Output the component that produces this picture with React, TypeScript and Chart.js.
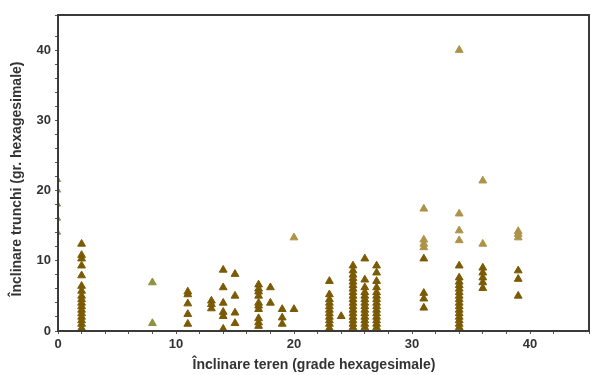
import React, { useEffect, useRef } from "react";
import { Chart, registerables } from "chart.js";

Chart.register(...registerables);

// Axis texts
const xTitle = "Înclinare teren (grade hexagesimale)";
const yTitle = "Înclinare trunchi (gr. hexagesimale)";
const xLabelTicks = [0, 10, 20, 30, 40];
const yLabelTicks = [0, 10, 20, 30, 40];

// Terrain slope columns (x) and trunk inclinations (y)
const terrainSlopes = [2, 11, 13, 14, 15, 17, 18, 19, 20, 23, 24, 25, 26, 27, 31, 34, 36, 39];
const darkTrunk = [
  [0.4, 1, 1.5, 2, 2.5, 3, 3.5, 4, 4.5, 5, 5.7, 6.4, 7.9, 9.3, 10.3, 10.8, 12.4],
  [1, 2.4, 3.9, 5.2, 5.6],
  [3.2, 3.8, 4.3],
  [0.3, 2.1, 2.7, 4.0, 6.2, 8.7],
  [1.1, 2.6, 5.0, 8.1],
  [0.7, 1.2, 1.8, 3.1, 3.6, 4.0, 5.0, 5.6, 6.0, 6.6],
  [4.0, 6.2],
  [1.0, 1.9, 3.1],
  [3.1],
  [0.4, 1, 1.5, 2, 2.5, 3, 3.5, 4, 4.5, 5.2, 7.1],
  [2.1],
  [0.5, 1, 1.5, 2, 2.5, 3, 3.5, 4, 4.5, 5, 5.5, 6, 6.5, 7, 7.5, 8, 8.6, 9.3],
  [0.5, 1, 1.5, 2, 2.5, 3, 3.5, 4, 4.5, 5, 5.5, 6.2, 7.3, 10.3],
  [0.5, 1, 1.5, 2, 2.5, 3, 3.5, 4, 4.5, 5, 5.5, 6.2, 7.1, 8.3, 9.3],
  [3.3, 4.6, 5.4, 10.3],
  [0.5, 1, 1.5, 2, 2.5, 3, 3.5, 4, 4.5, 5, 5.5, 6, 6.5, 7, 7.6, 9.3],
  [6.1, 6.9, 7.6, 8.3, 9],
  [5, 7.4, 8.6],
];
const lightTrunk = [
  [], [], [], [], [], [], [], [], [13.3], [], [], [], [], [],
  [11.9, 12.4, 13, 17.4],
  [12.9, 14.3, 16.7, 40],
  [12.4, 21.4],
  [13.3, 13.8, 14.2],
];
const greenSlopes = [8, 8];
const greenTrunk = [1.1, 6.9];
const edgeSlopes = [0, 0, 0, 0, 0];
const edgeTrunk = [14, 16, 18, 20, 21.5];

const DARK = "#7b5a04";
const LIGHT = "#ad9348";
const GREEN = "#8e9142";
const TEXT = "#333";
const FONT_FAMILY = "'Liberation Sans', Arial, sans-serif";

function toPoints(xs: number[], cols: number[][]) {
  const pts: { x: number; y: number }[] = [];
  xs.forEach((x, i) => cols[i].forEach((y) => pts.push({ x, y })));
  return pts;
}

const framePlugin = {
  id: "frame",
  afterDraw(chart: any) {
    const { ctx, chartArea } = chart;
    ctx.save();
    ctx.strokeStyle = "#3a3a3a";
    ctx.lineWidth = 2;
    ctx.strokeRect(chartArea.left, chartArea.top, chartArea.right - chartArea.left, chartArea.bottom - chartArea.top);
    // axis titles
    ctx.fillStyle = TEXT;
    ctx.font = `bold 14px ${FONT_FAMILY}`;
    ctx.textAlign = "center";
    ctx.textBaseline = "middle";
    ctx.fillText(xTitle, 314, 365);
    ctx.translate(17, 179);
    ctx.rotate(-Math.PI / 2);
    ctx.fillText(yTitle, 0, 0);
    ctx.restore();
  },
};

export default function App() {
  const ref = useRef<HTMLCanvasElement>(null);
  useEffect(() => {
    document.body.style.margin = "0";
    if (!ref.current) return;
    const font = { family: FONT_FAMILY, size: 13, weight: "bold" as const };
    const pointCommon = {
      pointStyle: "triangle" as const,
      pointRadius: 4.5,
      borderWidth: 1,
      showLine: false,
    };
    const chart = new Chart(ref.current, {
      type: "scatter",
      data: {
        datasets: [
          { label: "edge", data: edgeSlopes.map((x, i) => ({ x, y: edgeTrunk[i] })), backgroundColor: GREEN, borderColor: GREEN, clip: 0, ...pointCommon, pointRadius: 3 },
          { label: "green", data: greenSlopes.map((x, i) => ({ x, y: greenTrunk[i] })), backgroundColor: GREEN, borderColor: GREEN, ...pointCommon },
          { label: "light", data: toPoints(terrainSlopes, lightTrunk), backgroundColor: LIGHT, borderColor: LIGHT, ...pointCommon },
          { label: "dark", data: toPoints(terrainSlopes, darkTrunk), backgroundColor: DARK, borderColor: DARK, ...pointCommon },
        ],
      },
      options: {
        animation: false,
        responsive: false,
        layout: { autoPadding: false, padding: { top: 15, right: 1, left: 0, bottom: 0 } },
        plugins: { legend: { display: false }, tooltip: { enabled: false } },
        scales: {
          x: {
            type: "linear",
            min: 0,
            max: 45,
            afterFit: (s: any) => { s.height = 44; },
            ticks: {
              stepSize: 2,
              autoSkip: false,
              maxRotation: 0,
              padding: 3,
              color: TEXT,
              font,
              callback: (v: any) => (xLabelTicks.includes(Number(v)) ? String(v) : ""),
            },
            grid: { drawOnChartArea: false, drawTicks: true, tickLength: 3, color: "#555" },
            border: { display: true, color: "#3a3a3a", width: 2 },
          },
          y: {
            type: "linear",
            min: 0,
            max: 45,
            afterFit: (s: any) => { s.width = 58; },
            ticks: {
              stepSize: 2,
              autoSkip: false,
              padding: 4,
              color: TEXT,
              font,
              callback: (v: any) => (yLabelTicks.includes(Number(v)) ? String(v) : ""),
            },
            grid: { drawOnChartArea: false, drawTicks: true, tickLength: 3, color: "#555" },
            border: { display: true, color: "#3a3a3a", width: 2 },
          },
        },
      },
      plugins: [framePlugin],
    });
    return () => chart.destroy();
  }, []);
  return <canvas ref={ref} width={592} height={375} style={{ display: "block" }} />;
}
